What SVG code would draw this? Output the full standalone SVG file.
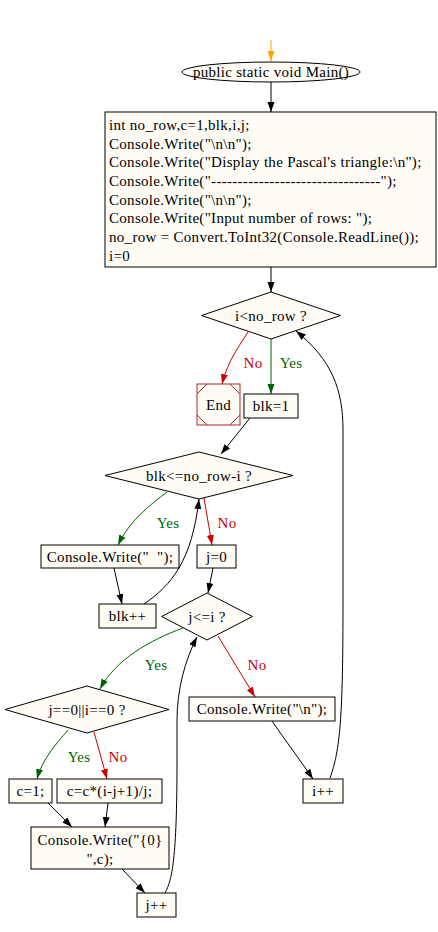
<svg xmlns="http://www.w3.org/2000/svg" width="438" height="932" viewBox="0 0 438 932">
<style>
.n{fill:#fffcf6;stroke:#000;stroke-width:1}
.t{font-family:"Liberation Serif","Times New Roman",serif;font-size:15px;letter-spacing:0.3px;fill:#000}
.c{text-anchor:middle}
.e{fill:none;stroke:#000;stroke-width:1}
.g{stroke:#006400}
.r{stroke:#cc0000}
.o{stroke:#ffa500}
.lg{font-family:"Liberation Serif","Times New Roman",serif;font-size:15px;letter-spacing:0.3px;fill:#006400;text-anchor:middle}
.lr{font-family:"Liberation Serif","Times New Roman",serif;font-size:15px;letter-spacing:0.3px;fill:#cc0000;text-anchor:middle}
</style>
<defs>
<marker id="ab" markerUnits="userSpaceOnUse" markerWidth="11" markerHeight="8" refX="10" refY="3.5" orient="auto"><path d="M0,0 L10,3.5 L0,7 z" fill="#000"/></marker>
<marker id="ag" markerUnits="userSpaceOnUse" markerWidth="11" markerHeight="8" refX="10" refY="3.5" orient="auto"><path d="M0,0 L10,3.5 L0,7 z" fill="#006400"/></marker>
<marker id="ar" markerUnits="userSpaceOnUse" markerWidth="11" markerHeight="8" refX="10" refY="3.5" orient="auto"><path d="M0,0 L10,3.5 L0,7 z" fill="#cc0000"/></marker>
<marker id="ao" markerUnits="userSpaceOnUse" markerWidth="11" markerHeight="8" refX="10" refY="3.5" orient="auto"><path d="M0,0 L10,3.5 L0,7 z" fill="#ffa500"/></marker>
</defs>
<rect width="438" height="932" fill="#fff"/>
<g id="edges">
<path class="e o" d="M271,40 L271,61" marker-end="url(#ao)"/>
<path class="e" d="M271,82 L271,112" marker-end="url(#ab)"/>
<path class="e" d="M271,267 L271,292" marker-end="url(#ab)"/>
<path class="e r" d="M248,332 C240,345 228,360 222,384" marker-end="url(#ar)"/>
<path class="e g" d="M271,339 L271,394" marker-end="url(#ag)"/>
<path class="e" d="M250,418 L221,454" marker-end="url(#ab)"/>
<path class="e g" d="M167,492 C150,505 130,520 118,545" marker-end="url(#ag)"/>
<path class="e r" d="M204,498 L212,545" marker-end="url(#ar)"/>
<path class="e" d="M114,568 L122,604" marker-end="url(#ab)"/>
<path class="e" d="M144,604 C172,585 192,560 199,499" marker-end="url(#ab)"/>
<path class="e" d="M213,568 L208,593" marker-end="url(#ab)"/>
<path class="e g" d="M183,628 C150,640 115,660 100,689" marker-end="url(#ag)"/>
<path class="e r" d="M218,636 L255,697" marker-end="url(#ar)"/>
<path class="e" d="M272,721 C285,740 300,760 313,779" marker-end="url(#ab)"/>
<path class="e" d="M330,778 C340,750 343,720 343,600 L343,430 C343,390 332,360 296,331" marker-end="url(#ab)"/>
<path class="e g" d="M68,730 C55,745 42,760 37,779" marker-end="url(#ag)"/>
<path class="e r" d="M94,732 L107,779" marker-end="url(#ar)"/>
<path class="e" d="M48,803 L72,827" marker-end="url(#ab)"/>
<path class="e" d="M108,803 L105,827" marker-end="url(#ab)"/>
<path class="e" d="M122,869 L145,893" marker-end="url(#ab)"/>
<path class="e" d="M165,893 C172,880 177,860 177,760 L177,720 C177,690 185,660 197,637" marker-end="url(#ab)"/>
<text class="lr" x="253" y="368">No</text>
<text class="lg" x="291" y="368">Yes</text>
<text class="lg" x="168" y="528">Yes</text>
<text class="lr" x="227" y="528">No</text>
<text class="lg" x="156" y="670">Yes</text>
<text class="lr" x="257" y="670">No</text>
<text class="lg" x="79" y="762">Yes</text>
<text class="lr" x="118" y="762">No</text>
</g>
<g id="main"><ellipse class="n" cx="271" cy="72" rx="89" ry="10"/><text class="t c" x="271" y="77">public static void Main()</text></g>
<g id="init"><rect class="n" x="105" y="112" width="331" height="155"/>
<text class="t" x="109" y="130">int no_row,c=1,blk,i,j;</text>
<text class="t" x="109" y="148.5">Console.Write("\n\n");</text>
<text class="t" x="109" y="167">Console.Write("Display the Pascal's triangle:\n");</text>
<text class="t" x="109" y="186">Console.Write("--------------------------------");</text>
<text class="t" x="109" y="204.5">Console.Write("\n\n");</text>
<text class="t" x="109" y="223">Console.Write("Input number of rows: ");</text>
<text class="t" x="109" y="242">no_row = Convert.ToInt32(Console.ReadLine());</text>
<text class="t" x="109" y="260.5">i=0</text>
</g>
<g id="cond1"><polygon class="n" points="271,292 340.5,315.5 271,339 201.5,315.5"/><text class="t c" x="271" y="320.5">i&lt;no_row ?</text></g>
<g id="end"><rect x="197" y="384" width="43" height="41" fill="#fffcf6" stroke="#a52a2a"/><path d="M197,394 L207,384 M230,384 L240,394 M240,415 L230,425 M207,425 L197,415" stroke="#a52a2a" fill="none"/><text class="t c" x="218.5" y="409.5">End</text></g>
<g id="blk1"><rect class="n" x="244" y="394" width="54" height="24"/><text class="t c" x="271" y="411">blk=1</text></g>
<g id="cond2"><polygon class="n" points="199,452 293,475.5 199,499 105,475.5"/><text class="t c" x="199" y="480.5">blk&lt;=no_row-i ?</text></g>
<g id="write1"><rect class="n" x="41" y="545" width="138" height="23"/><text class="t c" x="110" y="561.5" xml:space="preserve">Console.Write("  ");</text></g>
<g id="j0"><rect class="n" x="197" y="545" width="39" height="23"/><text class="t c" x="216.5" y="561.5">j=0</text></g>
<g id="blkinc"><rect class="n" x="99" y="604" width="57" height="24"/><text class="t c" x="127.5" y="621">blk++</text></g>
<g id="cond3"><polygon class="n" points="207,593 252.5,616.5 207,640 161.5,616.5"/><text class="t c" x="207" y="621.5">j&lt;=i ?</text></g>
<g id="writen"><rect class="n" x="189" y="697" width="146" height="24"/><text class="t c" x="262" y="714">Console.Write("\n");</text></g>
<g id="cond4"><polygon class="n" points="87,686 169,709.5 87,733 5,709.5"/><text class="t c" x="87" y="714.5">j==0||i==0 ?</text></g>
<g id="c1"><rect class="n" x="9" y="779" width="43" height="24"/><text class="t c" x="30.5" y="796">c=1;</text></g>
<g id="cc"><rect class="n" x="57" y="779" width="105" height="24"/><text class="t c" x="109.5" y="796">c=c*(i-j+1)/j;</text></g>
<g id="writec"><rect class="n" x="31" y="827" width="138" height="42"/><text class="t c" x="100" y="845">Console.Write("{0}</text><text class="t c" x="100" y="864">",c);</text></g>
<g id="jinc"><rect class="n" x="137" y="893" width="39" height="24"/><text class="t c" x="156.5" y="910">j++</text></g>
<g id="iinc"><rect class="n" x="303" y="779" width="40" height="24"/><text class="t c" x="323" y="796">i++</text></g>
</svg>
